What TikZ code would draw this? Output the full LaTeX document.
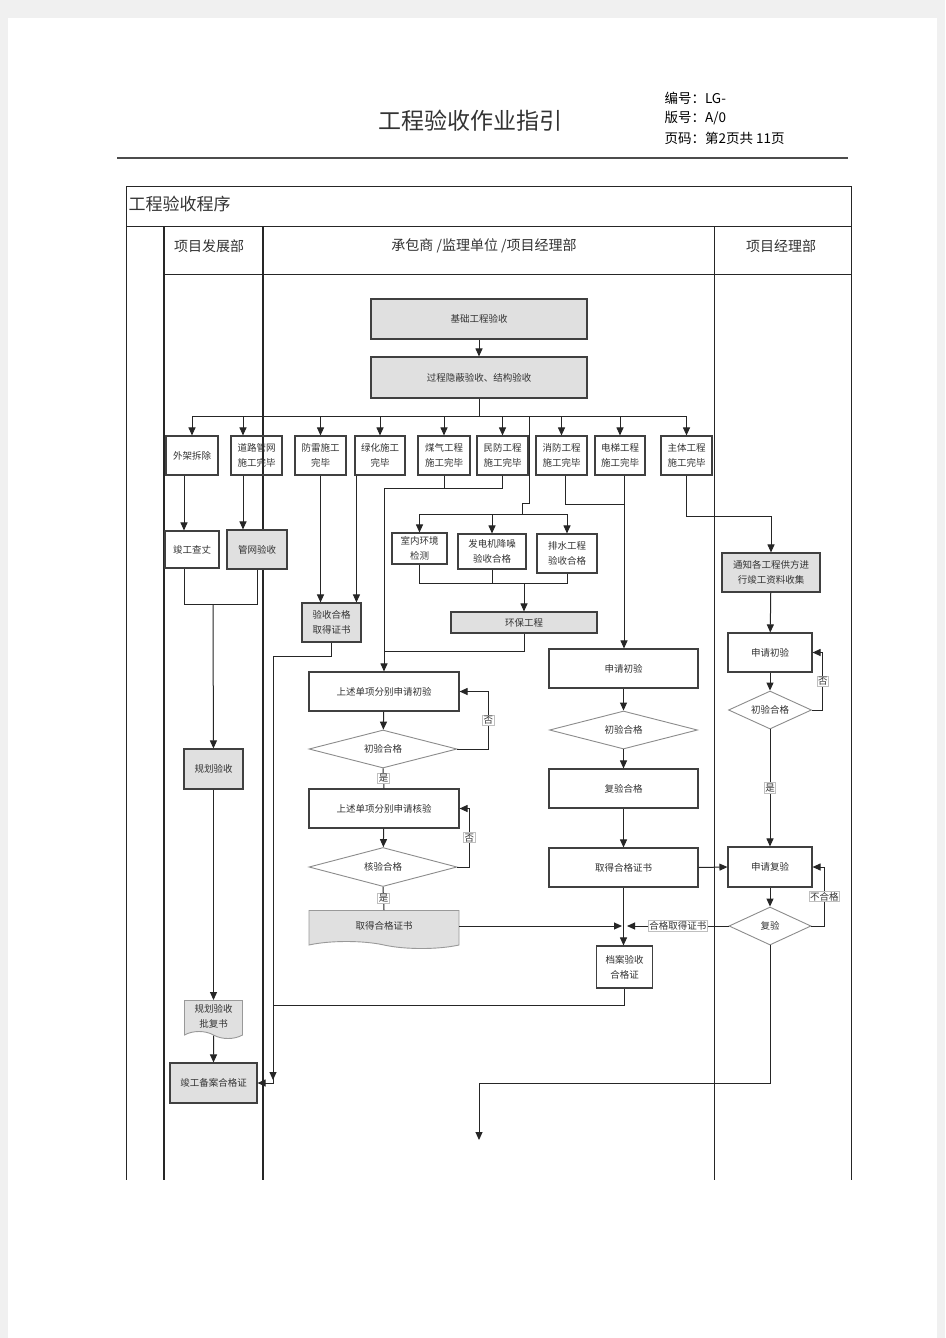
\documentclass[tikz,border=0pt]{standalone}
\usepackage{fontspec}
\setmainfont{Noto Sans CJK SC}
\usepackage{tikz}
\usepackage{xcolor}
\usetikzlibrary{shapes.geometric}
\usetikzlibrary{shapes.symbols}
\usetikzlibrary{arrows.meta}
\newcommand{\flowfont}{\fontsize{9.5}{15}\selectfont}
\newcommand{\headfont}{\fontsize{14}{16}\selectfont}
\tikzstyle{box} = [rectangle, draw=black!75, line width=1.1pt, text=black!80,
                   font=\flowfont, inner sep=1pt, align=center]
\tikzstyle{gbox} = [box, fill=black!12]
\tikzstyle{rowbox} = [box, minimum width=51pt, minimum height=39pt]
\tikzstyle{dec} = [diamond, draw=black!45, line width=0.9pt, aspect=4,
                   inner sep=0pt, text=black!80, font=\flowfont]
\tikzstyle{doc} = [tape, tape bend top=none, tape bend bottom=out and in,
                   tape bend height=7pt, draw=black!40, line width=0.9pt,
                   fill=black!12, text=black!80, font=\flowfont, align=center]
\tikzstyle{lbl} = [rectangle, draw=black!25, fill=white, inner sep=1pt,
                   text=black!80, font=\flowfont]
\tikzstyle{conn} = [draw=black!85, line width=1pt]
\tikzstyle{lane} = [draw=black!85, line width=0.8pt]

\begin{document}
\begin{tikzpicture}[x=1pt, y=-1pt, >={Triangle[length=8pt,width=7pt]}]
    \useasboundingbox (0,0) rectangle (945,1338);
    \fill[black!6] (0,0) rectangle (945,1338);
    \fill[white] (8,18) rectangle (937,1338);
    % page head
    \node[font=\fontsize{23}{26}\selectfont, text=black!80] (title) at (470,121) {工程验收作业指引};
    \node[anchor=west, font=\fontsize{13.5}{16}\selectfont] (code) at (661,98) {编号：LG-};
    \node[anchor=west, font=\fontsize{13.5}{16}\selectfont] (ver) at (661,118) {版号：A/0};
    \node[anchor=west, font=\fontsize{13.5}{16}\selectfont] (page) at (661,138) {页码：第2页共 11页};
    \draw[line width=2pt, black!70] (117,158) -- (848,158);
    % table and lanes
    \draw[lane] (126,186) rectangle (851,226);
    \draw[lane] (126,226) -- (126,1180);
    \draw[lane] (851,226) -- (851,1180);
    \draw[lane] (714,226) -- (714,1180);
    \draw[lane] (164,274) -- (851,274);
    \draw[lane, line width=1.6pt] (164,226) -- (164,1180);
    \draw[lane, line width=1.6pt] (263,226) -- (263,1180);
    \node[anchor=west, font=\fontsize{17}{20}\selectfont, text=black!80] (prog) at (125,204) {工程验收程序};
    \node[font=\headfont, text=black!80] (dev) at (209,246) {项目发展部};
    \node[font=\headfont, text=black!80] (con) at (484,246) {承包商 /监理单位 /项目经理部};
    \node[font=\headfont, text=black!80] (pm) at (781,246) {项目经理部};

    % top of the flow
    \node[gbox, minimum width=216pt, minimum height=40pt] (jc) at (479,319) {基础工程验收};
    \node[gbox, minimum width=216pt, minimum height=41pt] (gc) at (479,377.5) {过程隐蔽验收、结构验收};
    \draw[conn,->] (jc) -- (gc);
    \coordinate (br) at (479,416);
    \draw[conn] (gc) -- (br);
    \node[rowbox, minimum width=52pt] (wj) at (192,455.5) {外架拆除};
    \node[rowbox] (dl) at (256.5,455.5) {道路管网\\施工完毕};
    \node[rowbox] (fl) at (320.5,455.5) {防雷施工\\完毕};
    \node[rowbox, minimum width=50pt] (lh) at (380,455.5) {绿化施工\\完毕};
    \node[rowbox, minimum width=52pt] (mq) at (444,455.5) {煤气工程\\施工完毕};
    \node[rowbox] (mf) at (502.5,455.5) {民防工程\\施工完毕};
    \node[rowbox] (xf) at (561.5,455.5) {消防工程\\施工完毕};
    \node[rowbox, minimum width=50pt] (dt) at (620,455.5) {电梯工程\\施工完毕};
    \node[rowbox] (zt) at (686.5,455.5) {主体工程\\施工完毕};
    \draw[conn,->] (br) -| (wj);
    \draw[conn,->] (br) -| ([xshift=-13.5pt]dl.north);
    \draw[conn,->] (br) -| (fl);
    \draw[conn,->] (br) -| (lh);
    \draw[conn,->] (br) -| (mq);
    \draw[conn,->] (br) -| (mf);
    \draw[conn,->] (br) -| (xf);
    \draw[conn,->] (br) -| (dt);
    \draw[conn,->] (br) -| (zt);

    % project development lane
    \node[box, minimum width=54pt, minimum height=37pt] (js) at (192,549.5) {竣工查丈};
    \node[gbox, minimum width=60pt, minimum height=39pt] (gw) at (257,549.5) {管网验收};
    \draw[conn,->] ([xshift=-8pt]wj.south) -- ([xshift=-8pt]js.north);
    \draw[conn,->] ([xshift=-13.5pt]dl.south) -- ([xshift=-13.5pt]dl.south |- gw.north);
    \coordinate (j1) at (213,604);
    \draw[conn] ([xshift=-8pt]js.south) |- (j1);
    \draw[conn] (gw.south) |- (j1);
    \node[gbox, minimum width=59pt, minimum height=40pt] (gh) at (213.5,769) {规划验收};
    \draw[conn,->] (j1) -- (gh);
    \node[doc, minimum width=58pt, minimum height=38pt] (pf) at (213.5,1016) {规划验收\\批复书};
    \draw[conn,->] (gh) -- (pf);
    \node[gbox, minimum width=87pt, minimum height=40pt] (ba) at (213.5,1083) {竣工备案合格证};
    \draw[conn,->] (pf) -- (ba);

    % certificate of the single items
    \node[gbox, minimum width=59pt, minimum height=39pt] (ys) at (331.5,622.5) {验收合格\\取得证书};
    \draw[conn,->] (fl.south) -- (fl.south |- ys.north);
    \draw[conn,->] ([xshift=2pt]lh.south west) -- ([xshift=2pt]lh.south west |- ys.north);
    \coordinate (k1) at (273,656);
    \draw[conn,->] (ys.south) |- (k1) |- (ba.east);

    % environment works
    \coordinate (br2) at (529,416);
    \coordinate (sb) at (522,514);
    \draw[conn] (br2) -- (529,503) -| (sb);
    \node[box, minimum width=55pt, minimum height=31pt] (sn) at (419.5,548.5) {室内环境\\检测};
    \node[box, minimum width=68pt, minimum height=35pt] (fd) at (492,551.5) {发电机降噪\\验收合格};
    \node[box, minimum width=60pt, minimum height=39pt] (ps) at (567,553.5) {排水工程\\验收合格};
    \draw[conn,->] (sb) -| (sn);
    \draw[conn,->] (sb) -| (fd);
    \draw[conn,->] (sb) -| (ps);
    \coordinate (j2) at (524,583);
    \draw[conn] (sn.south) |- (j2);
    \draw[conn] (fd.south) |- (j2);
    \draw[conn] (ps.south) |- (j2);
    \node[gbox, minimum width=146pt, minimum height=21pt] (hb) at (524,622.5) {环保工程};
    \draw[conn,->] (j2) -- (hb);

    % single items checks
    \coordinate (j4) at (384,488);
    \draw[conn] (mq.south) |- (j4);
    \draw[conn] (mf.south) |- (j4);
    \coordinate (j3) at (384,651);
    \draw[conn] (hb.south) |- (j3);
    \node[box, minimum width=150pt, minimum height=39pt] (sq1) at (384,691.5) {上述单项分别申请初验};
    \draw[conn,->] (j4) -- (sq1);
    \node[dec, minimum width=148pt, minimum height=38pt] (d1) at (383,749) {初验合格};
    \draw[conn,->] (sq1) -- (d1);
    \draw[conn,->] (d1.east) -- ([xshift=31pt]d1.east) |- (sq1.east) node[lbl, pos=0.25] {否};
    \node[box, minimum width=150pt, minimum height=39pt] (sq2) at (384,808.5) {上述单项分别申请核验};
    \draw[conn] (d1.south) -- (sq2.north) node[lbl, midway] {是};
    \node[dec, minimum width=148pt, minimum height=39pt] (d2) at (383,867) {核验合格};
    \draw[conn,->] (sq2) -- (d2);
    \draw[conn,->] (d2.east) -- ([xshift=12pt]d2.east) |- (sq2.east) node[lbl, pos=0.25] {否};
    \node[doc, minimum width=150pt, minimum height=38pt] (qz) at (384,926) {取得合格证书};
    \draw[conn] (d2.south) -- (qz.north) node[lbl, midway] {是};

    % initial and re-inspection
    \coordinate (j5) at (624,504);
    \draw[conn] ([xshift=3.5pt]xf.south) |- (j5);
    \draw[conn] ([xshift=4pt]dt.south) -- (j5);
    \node[box, minimum width=149pt, minimum height=39pt] (sc1) at (623.5,668.5) {申请初验};
    \draw[conn,->] (j5) -- (j5 |- sc1.north);
    \node[dec, minimum width=148pt, minimum height=38pt] (d3) at (623.5,730) {初验合格};
    \draw[conn,->] (sc1) -- (d3);
    \node[box, minimum width=149pt, minimum height=39pt] (fy) at (623.5,788.5) {复验合格};
    \draw[conn,->] (d3) -- (fy);
    \node[box, minimum width=149pt, minimum height=39pt] (qz2) at (623.5,867.5) {取得合格证书};
    \draw[conn,->] (fy) -- (qz2);
    \node[box, minimum width=56pt, minimum height=42pt] (da) at (624.5,967) {档案验收\\合格证};
    \draw[conn,->] (qz2.south) -- (qz2.south |- da.north);
    \coordinate (jl) at (622,926);
    \coordinate (jr) at (627,926);
    \draw[conn,->] (qz.east) -- (jl);
    \coordinate (k3) at (273,1005);
    \coordinate (k4) at (273,1080);
    \draw[conn,->] (da.south) |- (k3) -- (k4);

    % project manager lane
    \coordinate (j7) at (686.5,516);
    \node[gbox, minimum width=98pt, minimum height=39pt] (tz) at (771,572.5) {通知各工程供方进\\行竣工资料收集};
    \draw[conn,->] (zt.south) -- (j7) -| (tz);
    \node[box, minimum width=84pt, minimum height=39pt] (sc2) at (770,652.5) {申请初验};
    \draw[conn,->] (tz) -- (sc2);
    \node[dec, minimum width=83pt, minimum height=38pt] (d4) at (770,710) {初验合格};
    \draw[conn,->] (sc2) -- (d4);
    \draw[conn,->] (d4.east) -- ([xshift=11pt]d4.east) |- (sc2.east) node[lbl, pos=0.25] {否};
    \node[box, minimum width=84pt, minimum height=40pt] (sf) at (770,867) {申请复验};
    \draw[conn,->] (d4) -- (sf) node[lbl, midway] {是};
    \node[dec, minimum width=82pt, minimum height=38pt] (d5) at (770,926) {复验};
    \draw[conn,->] (sf) -- (d5);
    \draw[conn,->] (d5.east) -- ([xshift=13pt]d5.east) |- (sf.east) node[lbl, pos=0.25] {不合格};
    \draw[conn,->] (qz2.east) -- (sf.west);
    \draw[conn,->] (d5.west) -- (jr) node[lbl, midway] {合格取得证书};
    \coordinate (j8) at (479,1083);
    \coordinate (fin) at (479,1140);
    \draw[conn,->] (d5.south) |- (j8) -- (fin);
\end{tikzpicture}
\end{document}
